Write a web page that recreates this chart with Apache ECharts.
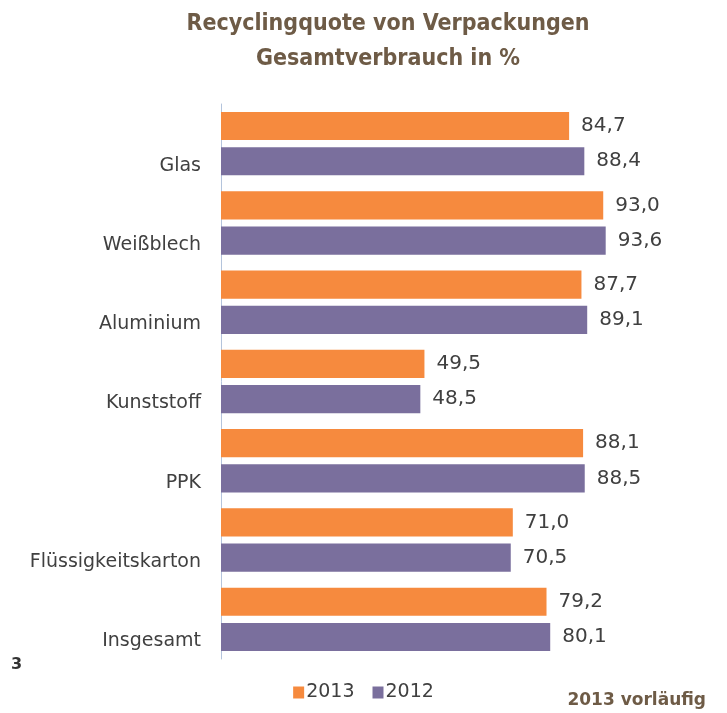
<!DOCTYPE html>
<html>
<head>
<meta charset="utf-8">
<script src="https://cdn.jsdelivr.net/npm/echarts@6/dist/echarts.min.js"></script>
<style>
  html, body { margin: 0; padding: 0; background: #fff; }
  #chart { width: 727px; height: 713px; }
</style>
</head>
<body>
<div id="chart"></div>
<script>
var categories = ['Glas', 'Weißblech', 'Aluminium', 'Kunststoff', 'PPK', 'Flüssigkeitskarton', 'Insgesamt'];
var values2013 = [84.7, 93.0, 87.7, 49.5, 88.1, 71.0, 79.2];
var values2012 = [88.4, 93.6, 89.1, 48.5, 88.5, 70.5, 80.1];
var seriesNames = ['2013', '2012'];

var FONT = '"DejaVu Sans", sans-serif';
var TITLE_FONT = '"DejaVu Sans Condensed", "DejaVu Sans", sans-serif';
var TEXT = '#404040';

function fmt(p) {
  return p.value.toFixed(1).replace('.', ',');
}

var chart = echarts.init(document.getElementById('chart'));
chart.setOption({
  animation: false,
  textStyle: { fontFamily: FONT },
  title: [{
    text: 'Recyclingquote von Verpackungen\nGesamtverbrauch in %',
    left: 383, top: 2, textAlign: 'center',
    textStyle: { fontFamily: TITLE_FONT, fontSize: 23, fontWeight: 'bold', color: '#6E5B46', lineHeight: 35 }
  }, {
    text: '3', left: 6, top: 652,
    textStyle: { fontFamily: FONT, fontSize: 16, fontWeight: 'bold', color: '#333' }
  }, {
    text: '2013 vorläufig', right: 16, top: 687,
    textStyle: { fontFamily: FONT, fontSize: 17, fontWeight: 'bold', color: '#6E5B46' }
  }],
  legend: {
    data: seriesNames,
    left: 'center', top: 678,
    itemWidth: 11, itemHeight: 12, itemGap: 18,
    icon: 'rect',
    textStyle: { fontFamily: FONT, fontSize: 19, color: TEXT, padding: [0, 0, 0, -3] }
  },
  grid: { left: 221, right: 95, top: 104, bottom: 54 },
  xAxis: {
    type: 'value', min: 0, max: 100, show: false
  },
  yAxis: {
    type: 'category', data: categories, inverse: true,
    axisLine: { show: true, lineStyle: { color: '#B4C4DC', width: 1 } },
    axisTick: { show: false },
    axisLabel: {
      fontFamily: FONT, fontSize: 19, color: TEXT, margin: 20,
      lineHeight: 44, interval: 0, hideOverlap: false,
      showMinLabel: true, showMaxLabel: true,
      formatter: function (v) { return '\n' + v; }
    }
  },
  series: [{
    name: '2013', type: 'bar', data: values2013,
    itemStyle: { color: '#F68A3E' },
    barGap: '25%', barCategoryGap: '20%',
    label: { show: true, position: 'right', distance: 12, formatter: fmt,
      fontFamily: FONT, fontSize: 20, color: TEXT }
  }, {
    name: '2012', type: 'bar', data: values2012,
    itemStyle: { color: '#7A6F9D' },
    barGap: '25%', barCategoryGap: '20%',
    label: { show: true, position: 'right', distance: 12, formatter: fmt,
      fontFamily: FONT, fontSize: 20, color: TEXT }
  }]
});
</script>
</body>
</html>
